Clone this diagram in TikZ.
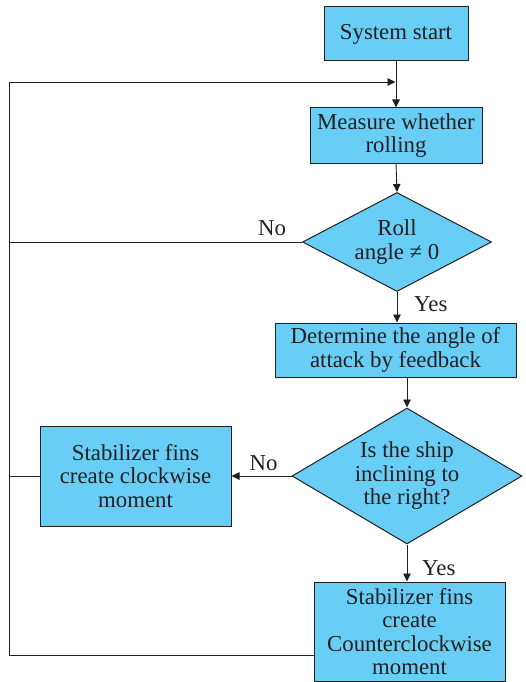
\documentclass[tikz,border=0pt]{standalone}
\usepackage{fontspec}
\setmainfont{Liberation Serif}
\usetikzlibrary{shapes.geometric,arrows.meta}
\definecolor{boxfill}{RGB}{104,206,245}
\definecolor{ink}{RGB}{35,31,32}
\begin{document}
\begin{tikzpicture}[x=1pt,y=-1pt,
  every node/.style={text=ink,font=\fontsize{22.8}{23.5}\selectfont},
  procbox/.style={draw=ink,line width=1pt,fill=boxfill,align=center,inner sep=0pt},
  decbox/.style={draw=ink,line width=1pt,fill=boxfill,align=center,inner sep=0pt,shape=diamond},
  conn/.style={draw=ink,line width=0.9pt},
  arr/.style={conn,-{Triangle[length=8pt,width=7.5pt]}},
  lbl/.style={inner sep=0pt,anchor=base west}]
\useasboundingbox (0,0) rectangle (525,682);
\node[procbox,minimum width=144pt,minimum height=54pt] (start) at (396,34) {System start};
\node[procbox,minimum width=172pt,minimum height=55pt] (meas) at (396,135.5) {Measure whether\\rolling};
\node[decbox,minimum width=189pt,minimum height=99pt,aspect=1.9] (d1) at (397,242) {Roll\\angle ≠ 0};
\node[procbox,minimum width=241pt,minimum height=54pt] (det) at (395.5,350) {Determine the angle of\\attack by feedback};
\node[decbox,minimum width=230pt,minimum height=136pt,aspect=1.69] (d2) at (407,476) {Is the ship\\inclining to\\the right?};
\node[procbox,minimum width=191pt,minimum height=100pt] (cw) at (135.5,476) {Stabilizer fins\\create clockwise\\moment};
\node[procbox,minimum width=191pt,minimum height=99pt] (ccw) at (409.5,631.5) {Stabilizer fins\\create\\Counterclockwise\\moment};
\coordinate (join) at (396,82);
\coordinate (ltop) at (9,82);
\coordinate (lbot) at (9,655);
\node[lbl] (no1) at (258,235) {No};
\node[lbl] (yes1) at (414,311.5) {Yes};
\node[lbl] (no2) at (249.5,470) {No};
\node[lbl] (yes2) at (422,575) {Yes};
\draw[arr] (start.south) -- (meas.north);
\draw[arr] (meas.south) -- (d1.north);
\draw[arr] (d1.south) -- (d1.south |- det.north);
\draw[arr] (det.south -| d2.north) -- (d2.north);
\draw[arr] (d2.west) -- (cw.east);
\draw[arr] (d2.south) -- (d2.south |- ccw.north);
\draw[conn] (d1.west) -- (d1.west -| ltop);
\draw[conn] (cw.west) -- (cw.west -| ltop);
\draw[arr] (ccw.west |- lbot) -- (lbot) -- (ltop) -- ([xshift=-0.5pt]join);
\end{tikzpicture}
\end{document}
